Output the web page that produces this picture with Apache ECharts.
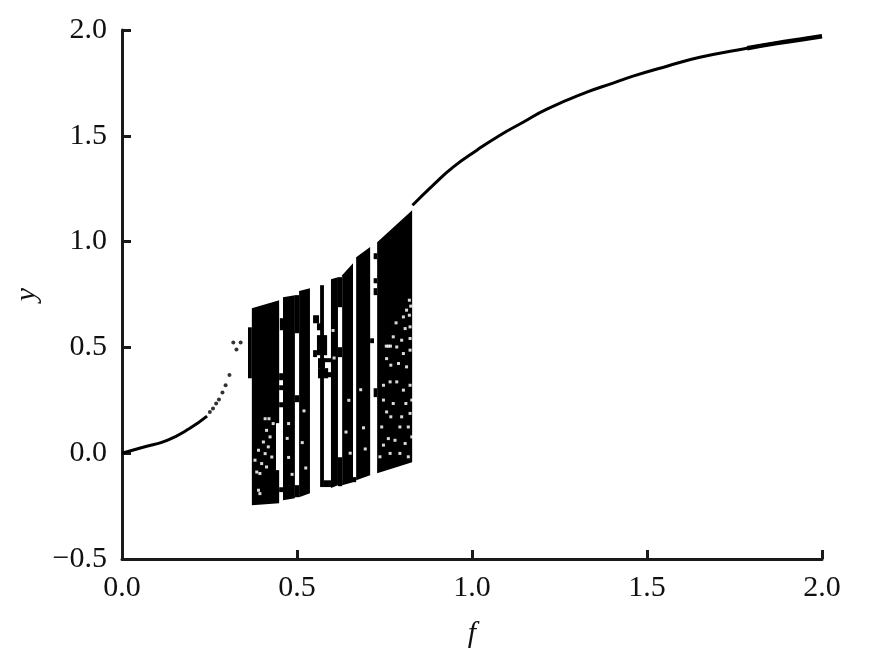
<!DOCTYPE html>
<html>
<head>
<meta charset="utf-8">
<title>f-y</title>
<script src="https://cdn.jsdelivr.net/npm/echarts@6/dist/echarts.min.js"></script>
<style>
  html, body { margin: 0; padding: 0; background: #fff; }
  /* the source is a soft scan */
  #chart { width: 877px; height: 659px; filter: blur(0.5px); }
</style>
</head>
<body>
<div id="chart"></div>
<script>
// smooth branch, low f side
const curveLeftF = [0, 0.06, 0.129, 0.194, 0.243];
const curveLeftY = [0, 0.028, 0.061, 0.118, 0.175];
// smooth branch, high f side
const curveRightF = [0.83, 0.889, 0.946, 1.014, 1.08, 1.146, 1.214, 1.328, 1.403, 1.46, 1.557, 1.651, 1.786, 1.871, 2.0];
const curveRightY = [1.172, 1.267, 1.352, 1.432, 1.503, 1.564, 1.626, 1.706, 1.749, 1.782, 1.829, 1.871, 1.914, 1.938, 1.97];
// last stretch where the curve gets thicker
const curveEndF = [1.786, 1.871, 1.94, 2.0];
const curveEndY = [1.914, 1.938, 1.955, 1.97];
// single points before the chaotic part
const dotF = [0.251, 0.26, 0.269, 0.277, 0.287, 0.296, 0.307, 0.318, 0.339, 0.327];
const dotY = [0.195, 0.211, 0.235, 0.254, 0.287, 0.321, 0.37, 0.523, 0.523, 0.49];

// chaotic bands: f range, upper and lower edge at both ends
const bandFrom = [0.371, 0.46, 0.506, 0.566, 0.597, 0.629, 0.669, 0.729];
const bandTo   = [0.449, 0.494, 0.537, 0.577, 0.617, 0.66, 0.709, 0.829];
const bandTopL = [0.685, 0.737, 0.766, 0.794, 0.822, 0.841, 0.926, 0.997];
const bandTopR = [0.723, 0.747, 0.78, 0.794, 0.832, 0.898, 0.974, 1.148];
const bandLowL = [-0.246, -0.222, -0.208, -0.16, -0.165, -0.151, -0.128, -0.095];
const bandLowR = [-0.236, -0.213, -0.189, -0.16, -0.151, -0.137, -0.104, -0.043];

// small filled pieces around the bands
const blobFrom = [0.36, 0.451, 0.449, 0.449, 0.449, 0.449, 0.494, 0.494, 0.494, 0.557, 0.56, 0.56, 0.546, 0.546, 0.557, 0.577, 0.577, 0.58, 0.617, 0.617, 0.617, 0.66, 0.709, 0.719, 0.719, 0.719, 0.719];
const blobTo   = [0.371, 0.46, 0.46, 0.46, 0.46, 0.46, 0.506, 0.506, 0.506, 0.586, 0.58, 0.589, 0.557, 0.563, 0.569, 0.597, 0.6, 0.6, 0.629, 0.629, 0.629, 0.669, 0.72, 0.729, 0.729, 0.729, 0.729];
const blobTop  = [0.595, 0.638, 0.378, 0.321, 0.241, -0.161, 0.747, 0.274, -0.151, 0.558, 0.449, 0.402, 0.487, 0.652, 0.614, -0.128, 0.449, 0.383, 0.832, 0.501, -0.019, -0.113, 0.543, 0.945, 0.827, 0.78, 0.307];
const blobLow  = [0.354, 0.581, 0.345, 0.298, 0.217, -0.184, 0.567, 0.241, -0.208, 0.463, 0.402, 0.354, 0.454, 0.614, 0.581, -0.16, 0.43, 0.359, 0.69, 0.454, -0.156, -0.137, 0.52, 0.917, 0.803, 0.747, 0.265];

// white cuts inside the lower, thinner part of the bands
const cutFrom = [0.44];
const cutTo   = [0.452];
const cutTop  = [0.142];
const cutLow  = [-0.08];

// white holes in the dots cloud
const speckF = [0.813, 0.821, 0.825, 0.821, 0.783, 0.804, 0.823, 0.775, 0.809, 0.755, 0.761, 0.767, 0.756, 0.799, 0.785, 0.823, 0.768, 0.804, 0.823, 0.79, 0.813, 0.747, 0.766, 0.785, 0.804, 0.823, 0.747, 0.775, 0.811, 0.828, 0.756, 0.768, 0.799, 0.823, 0.742, 0.761, 0.794, 0.818, 0.78, 0.809, 0.747, 0.737, 0.766, 0.794, 0.818, 0.828,
  0.409, 0.42, 0.432, 0.413, 0.423, 0.404, 0.418, 0.39, 0.409, 0.38, 0.399, 0.428, 0.413, 0.385, 0.394, 0.39, 0.394,
  0.476, 0.472, 0.476, 0.486, 0.52, 0.515, 0.525, 0.606, 0.603, 0.64, 0.648, 0.652, 0.682, 0.69, 0.695];
const speckY = [0.676, 0.723, 0.695, 0.652, 0.616, 0.644, 0.597, 0.55, 0.589, 0.506, 0.506, 0.506, 0.447, 0.534, 0.502, 0.542, 0.416, 0.471, 0.487, 0.424, 0.408, 0.321, 0.337, 0.337, 0.298, 0.321, 0.251, 0.235, 0.235, 0.251, 0.195, 0.172, 0.172, 0.188, 0.124, 0.069, 0.124, 0.124, 0.061, 0.046, 0.038, -0.017, -0.001, -0.001, -0.017, 0.077,
  0.163, 0.163, 0.14, 0.108, 0.077, 0.053, 0.03, 0.014, -0.002, -0.033, -0.049, -0.018, -0.065, -0.089, -0.096, -0.175, -0.191,
  0.14, 0.07, -0.02, -0.1, 0.2, 0.05, -0.07, 0.45, 0.58, 0.1, 0.25, 0.0, 0.3, 0.12, 0.02];

const zip = (a, b) => a.map((v, i) => [v, b[i]]);
const fontName = '"Liberation Serif", "Times New Roman", serif';

function drawBand(params, api) {
  const fa = api.value(0), fb = api.value(1);
  return {
    type: 'polygon',
    shape: { points: [
      api.coord([fa, api.value(2)]),
      api.coord([fb, api.value(3)]),
      api.coord([fb, api.value(5)]),
      api.coord([fa, api.value(4)])
    ] },
    style: { fill: api.value(6) ? '#fff' : '#000' }
  };
}

const bandRows = bandFrom.map((v, i) => [v, bandTo[i], bandTopL[i], bandTopR[i], bandLowL[i], bandLowR[i], 0]);
const blobRows = blobFrom.map((v, i) => [v, blobTo[i], blobTop[i], blobTop[i], blobLow[i], blobLow[i], 0]);
const cutRows = cutFrom.map((v, i) => [v, cutTo[i], cutTop[i], cutTop[i], cutLow[i], cutLow[i], 1]);

const axisStyle = {
  axisLine: { show: true, onZero: false, lineStyle: { color: '#1a1a1a', width: 3 } },
  axisTick: { show: true, inside: true, length: 9, lineStyle: { color: '#1a1a1a', width: 3 } },
  splitLine: { show: false }
};

const options = {
  animation: false,
  backgroundColor: '#fff',
  grid: { left: 122, right: 55, top: 30, bottom: 100 },
  xAxis: Object.assign({
    type: 'value',
    min: 0,
    max: 2,
    interval: 0.5,
    name: 'f',
    nameLocation: 'middle',
    nameGap: 60,
    nameTextStyle: { fontFamily: fontName, fontStyle: 'italic', fontSize: 30, color: '#111' },
    axisLabel: { fontFamily: fontName, fontSize: 30, color: '#111', margin: 14, formatter: v => v.toFixed(1) }
  }, axisStyle),
  yAxis: Object.assign({
    type: 'value',
    min: -0.5,
    max: 2,
    interval: 0.5,
    name: 'y',
    nameLocation: 'middle',
    nameGap: 64,
    nameTextStyle: { fontFamily: fontName, fontStyle: 'italic', fontSize: 30, color: '#111' },
    axisLabel: { fontFamily: fontName, fontSize: 30, color: '#111', margin: 15,
      formatter: v => (v < 0 ? '\u2212' : '') + Math.abs(v).toFixed(1) }
  }, axisStyle),
  series: [
    { type: 'custom', silent: true, renderItem: drawBand, data: bandRows, z: 2 },
    { type: 'custom', silent: true, renderItem: drawBand, data: blobRows, z: 2 },
    { type: 'custom', silent: true, renderItem: drawBand, data: cutRows, z: 3 },
    { type: 'scatter', silent: true, symbol: 'rect', symbolSize: 3, itemStyle: { color: '#fff', opacity: 0.85 }, data: zip(speckF, speckY), z: 4 },
    { type: 'line', silent: true, showSymbol: false, smooth: true, lineStyle: { color: '#000', width: 3 }, data: zip(curveLeftF, curveLeftY), z: 5 },
    { type: 'line', silent: true, showSymbol: false, smooth: true, lineStyle: { color: '#000', width: 3 }, data: zip(curveRightF, curveRightY), z: 5 },
    { type: 'line', silent: true, showSymbol: false, smooth: true, lineStyle: { color: '#000', width: 4.5 }, data: zip(curveEndF, curveEndY), z: 5 },
    { type: 'scatter', silent: true, symbolSize: 4, itemStyle: { color: '#000' }, data: zip(dotF, dotY), z: 5 }
  ]
};

const myChart = echarts.init(document.getElementById('chart'));
myChart.setOption(options);
</script>
</body>
</html>
